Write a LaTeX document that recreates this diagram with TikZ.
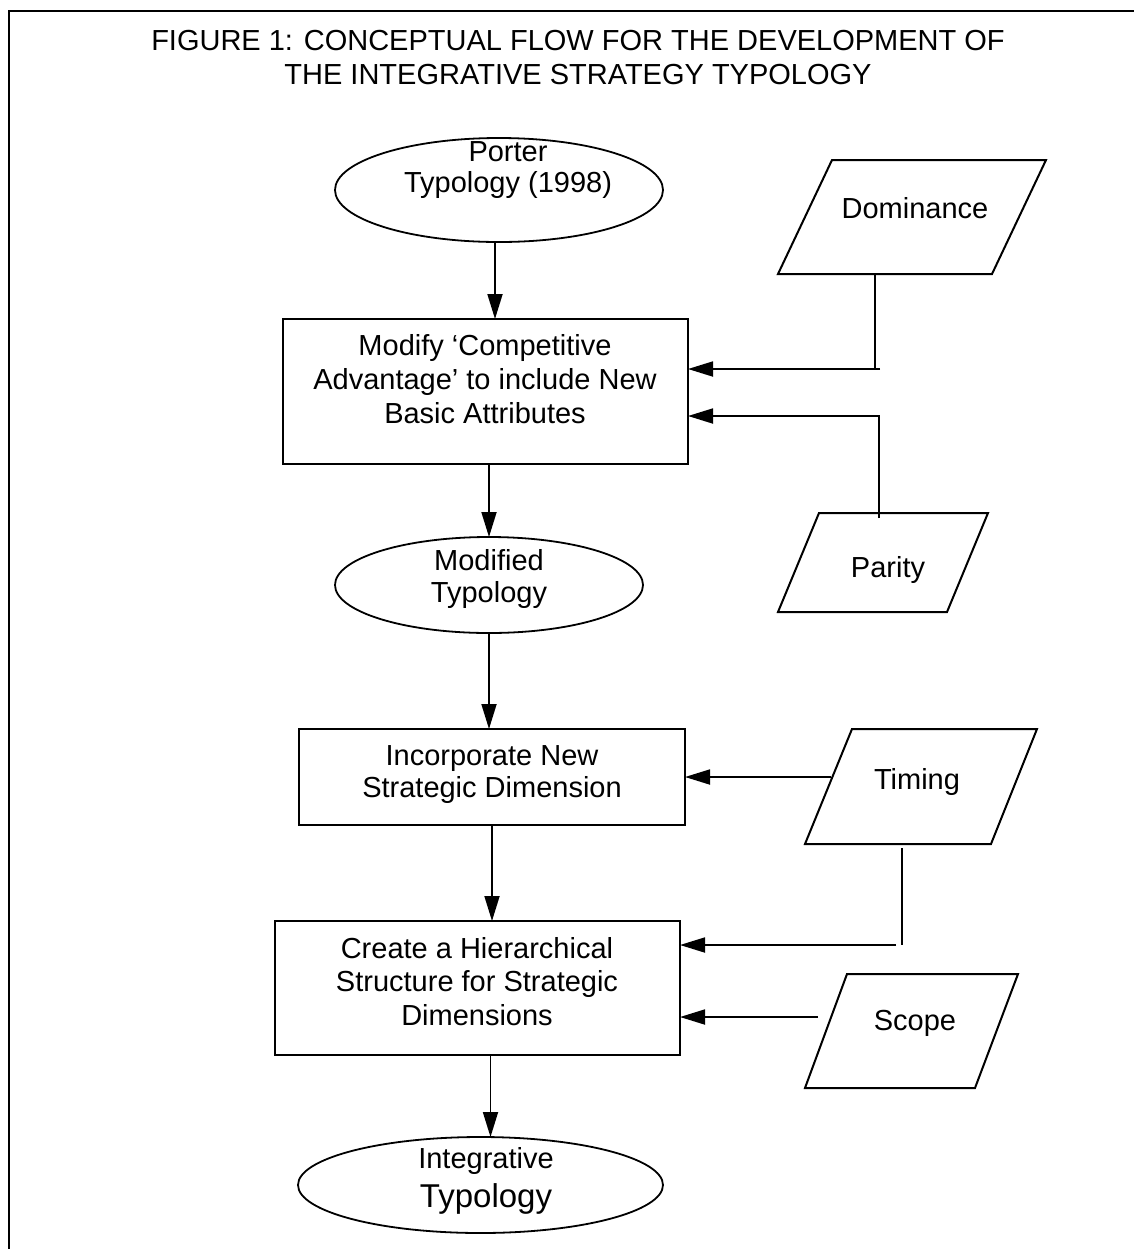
\documentclass[tikz,border=0pt]{standalone}
\usepackage{fontspec}
\setmainfont{Liberation Sans}
\usetikzlibrary{arrows.meta,shapes.geometric,calc}

\begin{document}
\begin{tikzpicture}[x=0.5pt,y=-0.5pt,
  line width=0.9pt,
  every node/.style={inner sep=0pt, outer sep=0pt},
  txt/.style={font=\fontsize{14.5}{17}\selectfont, align=center, anchor=north},
  lbl/.style={font=\fontsize{14.5}{17}\selectfont, anchor=base},
  stepbox/.style={draw, rectangle, line width=1pt},
  oval/.style={draw, ellipse, line width=0.9pt},
  para/.style={draw, line width=1pt, line join=miter},
  arr/.style={-{Triangle[length=12.5pt,width=7.5pt]}},
]
\useasboundingbox (0,0) rectangle (1134,1249);

% frame (left and top rules only)
\draw[line width=1.3pt] (9,1249) -- (9,11) -- (1134,11);

% title
\node[txt] (title) at (578,30)
  {FIGURE 1: CONCEPTUAL FLOW FOR THE DEVELOPMENT OF\\THE INTEGRATIVE STRATEGY TYPOLOGY};

% main column shapes
\node[oval, minimum width=164pt, minimum height=52pt] (porter) at (499,190) {};
\node[txt, font=\fontsize{14.5}{15.5}\selectfont] (porterT) at (508,142) {Porter\\Typology (1998)};

\node[stepbox, minimum width=202.5pt, minimum height=72.5pt] (box1) at (485.5,391.5) {};
\node[txt] (box1T) at (485,334) {Modify ‘Competitive\\Advantage’ to include New\\Basic Attributes};

\node[oval, minimum width=154pt, minimum height=48pt] (mod) at (489,585) {};
\node[txt, font=\fontsize{14.5}{16}\selectfont] (modT) at (489,549) {Modified\\Typology};

\node[stepbox, minimum width=193pt, minimum height=48pt] (box2) at (492,777) {};
\node[txt, font=\fontsize{14.5}{16}\selectfont] (box2T) at (492,746) {Incorporate New\\Strategic Dimension};

\node[stepbox, minimum width=202.5pt, minimum height=67pt] (box3) at (477.5,988) {};
\node[txt, font=\fontsize{14.5}{16.75}\selectfont] (box3T) at (477,937) {Create a Hierarchical\\Structure for Strategic\\Dimensions};

\node[oval, minimum width=182.5pt, minimum height=48pt] (integ) at (480.5,1185) {};
\node[lbl] (integA) at (486,1168) {Integrative};
\node[lbl, font=\fontsize{16.5}{19}\selectfont] (integB) at (486,1207) {Typology};

% input parallelograms
\coordinate (dom-tl) at (832,160);  \coordinate (dom-tr) at (1046,160);
\coordinate (dom-br) at (992,274);  \coordinate (dom-bl) at (778,274);
\draw[para] (dom-tl) -- (dom-tr) -- (dom-br) -- (dom-bl) -- cycle;
\node[lbl] (dom) at (915,218) {Dominance};

\coordinate (par-tl) at (819,513);  \coordinate (par-tr) at (988,513);
\coordinate (par-br) at (947,612);  \coordinate (par-bl) at (778,612);
\draw[para] (par-tl) -- (par-tr) -- (par-br) -- (par-bl) -- cycle;
\node[lbl] (par) at (888,577) {Parity};

\coordinate (tim-tl) at (852,729);  \coordinate (tim-tr) at (1037,729);
\coordinate (tim-br) at (991,844);  \coordinate (tim-bl) at (805,844);
\draw[para] (tim-tl) -- (tim-tr) -- (tim-br) -- (tim-bl) -- cycle;
\node[lbl] (tim) at (917,789) {Timing};

\coordinate (scp-tl) at (847,974);  \coordinate (scp-tr) at (1018,974);
\coordinate (scp-br) at (975,1088); \coordinate (scp-bl) at (805,1088);
\draw[para] (scp-tl) -- (scp-tr) -- (scp-br) -- (scp-bl) -- cycle;
\node[lbl] (scp) at (915,1030) {Scope};

% main flow
\coordinate (a1) at ($(porter.south)+(-4,0)$);
\draw[arr] (a1) -- (a1 |- box1.north);
\draw[arr] (mod.north |- box1.south) -- (mod.north);
\draw[arr] (mod.south) -- (mod.south |- box2.north);
\draw[arr] (box2.south) -- (box2.south |- box3.north);
\coordinate (a5) at ($(box3.south)+(13,0)$);
\draw[arr] (a5) -- (a5 |- integ.north);

% side inputs
\coordinate (dk) at (875,369);
\draw (dk |- dom-bl) -- (dk);
\draw[arr] ($(dk)+(5,0)$) -- (dk -| box1.east);

\coordinate (pk) at (879,416);
\draw[arr] ($(pk |- par-tl)+(0,5)$) -- (pk) -- (pk -| box1.east);

\coordinate (tk) at (831,777);
\draw[arr] (tk) -- (tk -| box2.east);

\coordinate (tk2) at (902,945);
\draw ($(tk2 |- tim-bl)+(0,4)$) -- (tk2);
\draw[arr] ($(tk2)+(-6,0)$) -- (tk2 -| box3.east);

\coordinate (sk) at (818,1017);
\draw[arr] (sk) -- (sk -| box3.east);
\end{tikzpicture}
\end{document}
